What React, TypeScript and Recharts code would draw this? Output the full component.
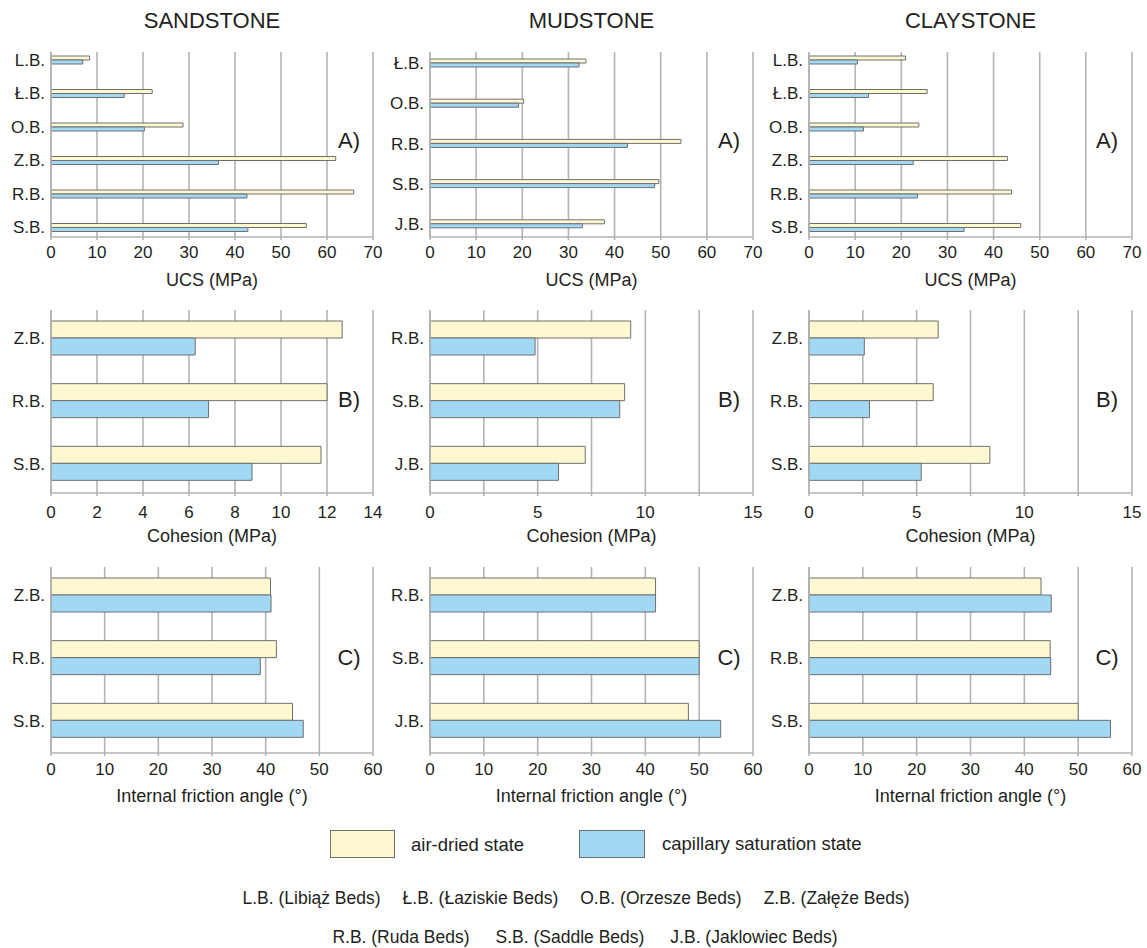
import React from "react";
import { BarChart, Bar, XAxis, YAxis, CartesianGrid } from "recharts";

// Bed categories per rock type (top to bottom)
const ucsSandstoneBeds = ["L.B.", "Ł.B.", "O.B.", "Z.B.", "R.B.", "S.B."];
const ucsMudstoneBeds = ["Ł.B.", "O.B.", "R.B.", "S.B.", "J.B."];
const ucsClaystoneBeds = ["L.B.", "Ł.B.", "O.B.", "Z.B.", "R.B.", "S.B."];
const shearSandstoneBeds = ["Z.B.", "R.B.", "S.B."];
const shearMudstoneBeds = ["R.B.", "S.B.", "J.B."];
const shearClaystoneBeds = ["Z.B.", "R.B.", "S.B."];

// UCS (MPa)
const ucsSandstoneDry = [8.4, 22.0, 28.7, 61.9, 65.8, 55.5];
const ucsSandstoneSat = [6.9, 15.9, 20.3, 36.4, 42.6, 42.8];
const ucsMudstoneDry = [33.8, 20.3, 54.4, 49.6, 37.8];
const ucsMudstoneSat = [32.3, 19.2, 42.8, 48.7, 33.0];
const ucsClaystoneDry = [20.9, 25.6, 23.8, 43.0, 43.9, 45.9];
const ucsClaystoneSat = [10.5, 12.9, 11.8, 22.6, 23.5, 33.6];

// Cohesion (MPa)
const cohSandstoneDry = [12.66, 12.0, 11.74];
const cohSandstoneSat = [6.27, 6.85, 8.74];
const cohMudstoneDry = [9.32, 9.04, 7.21];
const cohMudstoneSat = [4.88, 8.81, 5.97];
const cohClaystoneDry = [6.0, 5.77, 8.4];
const cohClaystoneSat = [2.57, 2.81, 5.21];

// Internal friction angle (deg)
const phiSandstoneDry = [40.9, 42.0, 45.0];
const phiSandstoneSat = [41.0, 39.0, 47.0];
const phiMudstoneDry = [41.9, 50.0, 48.0];
const phiMudstoneSat = [41.9, 50.0, 54.0];
const phiClaystoneDry = [43.1, 44.8, 50.0];
const phiClaystoneSat = [45.0, 44.9, 56.0];

// Axis ticks
const ucsTicks = [0, 10, 20, 30, 40, 50, 60, 70];
const cohSandstoneTicks = [0, 2, 4, 6, 8, 10, 12, 14];
const cohTicks = [0, 2.5, 5, 7.5, 10, 12.5, 15];
const phiTicks = [0, 10, 20, 30, 40, 50, 60];

const rockTitles = ["SANDSTONE", "MUDSTONE", "CLAYSTONE"];
const legendLabels = ["air-dried state", "capillary saturation state"];
const bedNamesLine1 = [
  "L.B. (Libiąż Beds)",
  "Ł.B. (Łaziskie Beds)",
  "O.B. (Orzesze Beds)",
  "Z.B. (Załęże Beds)",
];
const bedNamesLine2 = ["R.B. (Ruda Beds)", "S.B. (Saddle Beds)", "J.B. (Jaklowiec Beds)"];

const FONT = "'Liberation Sans', Arial, Helvetica, sans-serif";
const TEXT = "#231f20";
const DRY = "#fef8d0";
const SAT = "#a3d8f5";
const EDGE = "#6f6f6f";
const GRID = "#b4b4b4";

const colLeft = [51, 430, 809];
const colWidth = [322, 323, 323];

interface RowSpec {
  top: number;
  height: number;
  barSize: number;
  tickMargin: number;
  padTop: number;
  padBottom: number;
  letter: string;
  letterY: number;
  xLabel: string;
}

const rows: RowSpec[] = [
  { top: 52, height: 185, barSize: 4, tickMargin: 6, padTop: -9, padBottom: -7, letter: "A)", letterY: 141, xLabel: "UCS (MPa)" },
  { top: 310, height: 183, barSize: 17, tickMargin: 10, padTop: -3, padBottom: -2, letter: "B)", letterY: 400, xLabel: "Cohesion (MPa)" },
  { top: 567, height: 186, barSize: 17, tickMargin: 7, padTop: -3, padBottom: 1, letter: "C)", letterY: 658, xLabel: "Internal friction angle (°)" },
];

const letterX = [349, 729, 1107];

function buildRows(beds: string[], dry: number[], sat: number[]) {
  return beds.map((bed, i) => ({ bed, dry: dry[i], sat: sat[i] }));
}

interface PanelProps {
  row: RowSpec;
  col: number;
  data: { bed: string; dry: number; sat: number }[];
  ticks: number[];
  max: number;
  tickFormatter?: (v: number) => string;
}

const AXIS_W = 60;
const TOP_PAD = 12;
const RIGHT_PAD = 30;
const XAXIS_H = 49;
const BOTTOM_PAD = 10;

function Panel({ row, col, data, ticks, max, tickFormatter }: PanelProps) {
  const width = AXIS_W + colWidth[col] + RIGHT_PAD;
  const height = TOP_PAD + row.height + XAXIS_H + BOTTOM_PAD;
  return (
    <div
      style={{
        position: "absolute",
        left: colLeft[col] - AXIS_W,
        top: row.top - TOP_PAD,
        width,
        height,
      }}
    >
      <BarChart
        layout="vertical"
        width={width}
        height={height}
        data={data}
        margin={{ top: TOP_PAD, right: RIGHT_PAD, bottom: BOTTOM_PAD, left: 0 }}
        barGap={0}
      >
        <CartesianGrid horizontal={false} stroke={GRID} strokeWidth={1.6} />
        <XAxis
          type="number"
          domain={[0, max]}
          ticks={ticks}
          interval={0}
          height={XAXIS_H}
          tickFormatter={tickFormatter}
          axisLine={{ stroke: GRID, strokeWidth: 1.6 }}
          tickLine={{ stroke: GRID, strokeWidth: 1.6 }}
          tickSize={3}
          tickMargin={row.tickMargin}
          tick={{ fill: TEXT, fontSize: 17, fontFamily: FONT }}
          label={{
            value: row.xLabel,
            position: "insideBottom",
            offset: 0,
            fill: TEXT,
            fontSize: 18,
            fontFamily: FONT,
          }}
        />
        <YAxis
          type="category"
          dataKey="bed"
          width={AXIS_W}
          padding={{ top: row.padTop, bottom: row.padBottom }}
          axisLine={{ stroke: GRID, strokeWidth: 1.6 }}
          tickLine={false}
          tickSize={0}
          tickMargin={6}
          tick={{ fill: TEXT, fontSize: 17, fontFamily: FONT }}
        />
        <Bar dataKey="dry" fill={DRY} stroke={EDGE} strokeWidth={1} barSize={row.barSize} isAnimationActive={false} />
        <Bar dataKey="sat" fill={SAT} stroke={EDGE} strokeWidth={1} barSize={row.barSize} isAnimationActive={false} />
      </BarChart>
    </div>
  );
}

const cohTickLabel = (v: number) => (v % 5 === 0 ? String(v) : "");

export default function App() {
  const textBase: React.CSSProperties = { position: "absolute", fontFamily: FONT, color: TEXT, whiteSpace: "nowrap" };
  return (
    <div style={{ position: "absolute", left: 0, top: 0, width: 1147, height: 948, background: "#fff", overflow: "hidden" }}>
      {rockTitles.map((t, i) => (
        <div
          key={t}
          style={{ ...textBase, left: colLeft[i] + colWidth[i] / 2, top: 21, transform: "translate(-50%, -50%)", fontSize: 22 }}
        >
          {t}
        </div>
      ))}

      <Panel row={rows[0]} col={0} data={buildRows(ucsSandstoneBeds, ucsSandstoneDry, ucsSandstoneSat)} ticks={ucsTicks} max={70} />
      <Panel row={rows[0]} col={1} data={buildRows(ucsMudstoneBeds, ucsMudstoneDry, ucsMudstoneSat)} ticks={ucsTicks} max={70} />
      <Panel row={rows[0]} col={2} data={buildRows(ucsClaystoneBeds, ucsClaystoneDry, ucsClaystoneSat)} ticks={ucsTicks} max={70} />

      <Panel row={rows[1]} col={0} data={buildRows(shearSandstoneBeds, cohSandstoneDry, cohSandstoneSat)} ticks={cohSandstoneTicks} max={14} />
      <Panel row={rows[1]} col={1} data={buildRows(shearMudstoneBeds, cohMudstoneDry, cohMudstoneSat)} ticks={cohTicks} max={15} tickFormatter={cohTickLabel} />
      <Panel row={rows[1]} col={2} data={buildRows(shearClaystoneBeds, cohClaystoneDry, cohClaystoneSat)} ticks={cohTicks} max={15} tickFormatter={cohTickLabel} />

      <Panel row={rows[2]} col={0} data={buildRows(shearSandstoneBeds, phiSandstoneDry, phiSandstoneSat)} ticks={phiTicks} max={60} />
      <Panel row={rows[2]} col={1} data={buildRows(shearMudstoneBeds, phiMudstoneDry, phiMudstoneSat)} ticks={phiTicks} max={60} />
      <Panel row={rows[2]} col={2} data={buildRows(shearClaystoneBeds, phiClaystoneDry, phiClaystoneSat)} ticks={phiTicks} max={60} />

      {rows.map((r) =>
        letterX.map((x) => (
          <div
            key={r.letter + x}
            style={{ ...textBase, left: x, top: r.letterY, transform: "translate(-50%, -50%)", fontSize: 22 }}
          >
            {r.letter}
          </div>
        ))
      )}

      {/* legend */}
      <div style={{ position: "absolute", left: 330, top: 830, width: 63, height: 26, background: DRY, border: `1.5px solid ${EDGE}` }} />
      <div style={{ ...textBase, left: 411, top: 845, transform: "translateY(-50%)", fontSize: 18.5 }}>{legendLabels[0]}</div>
      <div style={{ position: "absolute", left: 579, top: 830, width: 64, height: 26, background: SAT, border: `1.5px solid ${EDGE}` }} />
      <div style={{ ...textBase, left: 662, top: 844, transform: "translateY(-50%)", fontSize: 18.5 }}>{legendLabels[1]}</div>

      {/* bed abbreviations */}
      <div style={{ ...textBase, left: 576, top: 898, transform: "translate(-50%, -50%)", fontSize: 17.5, display: "flex", gap: 22 }}>
        {bedNamesLine1.map((b) => (
          <span key={b}>{b}</span>
        ))}
      </div>
      <div style={{ ...textBase, left: 585, top: 937, transform: "translate(-50%, -50%)", fontSize: 17.5, display: "flex", gap: 26 }}>
        {bedNamesLine2.map((b) => (
          <span key={b}>{b}</span>
        ))}
      </div>
    </div>
  );
}
